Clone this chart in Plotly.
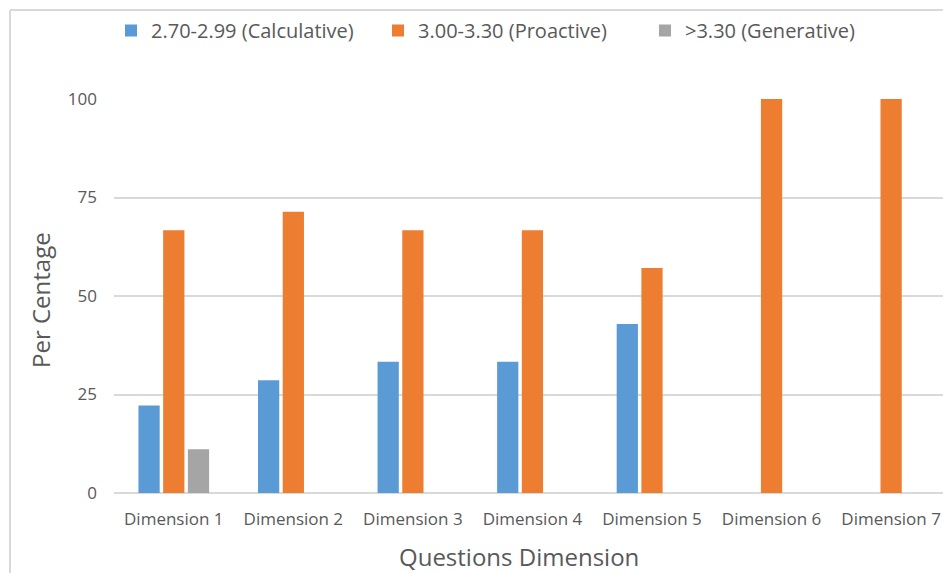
import plotly.graph_objects as go

categories = ["Dimension 1", "Dimension 2", "Dimension 3", "Dimension 4",
              "Dimension 5", "Dimension 6", "Dimension 7"]
calculative = [22.2, 28.6, 33.3, 33.3, 42.9, None, None]
proactive = [66.7, 71.4, 66.7, 66.7, 57.1, 100, 100]
generative = [11.1, None, None, None, None, None, None]

series_names = ["2.70-2.99 (Calculative)", "3.00-3.30 (Proactive)", ">3.30 (Generative)"]
colors = ["#5B9BD5", "#ED7D31", "#A5A5A5"]

W, H = 943, 573
font_family = "Open Sans, Noto Sans, sans-serif"
text_color = "#595959"
grid_color = "#D9D9D9"

fig = go.Figure()
for name, vals, col in zip(series_names, [calculative, proactive, generative], colors):
    fig.add_trace(go.Bar(
        x=list(range(len(categories))), y=vals, name=name,
        marker=dict(color=col, line=dict(width=0)),
    ))

fig.update_layout(
    width=W, height=H,
    margin=dict(l=0, r=0, t=0, b=0, autoexpand=False),
    paper_bgcolor="white", plot_bgcolor="white",
    barmode="group", bargap=0.38, bargroupgap=0.14,
    font=dict(family=font_family, color=text_color),
    showlegend=True,
    legend=dict(
        orientation="h", x=111 / W, xanchor="left", y=1 - 11 / H, yanchor="top",
        entrywidth=222, entrywidthmode="pixels",
        font=dict(size=20, color=text_color),
        itemclick=False, tracegroupgap=0,
    ),
    xaxis=dict(
        domain=[114 / W, 1],
        range=[-0.5, 6.434],
        tickmode="array", tickvals=list(range(len(categories))), ticktext=categories,
        showgrid=False, zeroline=False, showline=False,
        ticks="", ticklabelstandoff=14,
        tickfont=dict(size=17, color=text_color),
    ),
    yaxis=dict(
        domain=[80 / H, 474 / H],
        range=[0, 100],
        tickvals=[0, 25, 50, 75, 100],
        showgrid=True, gridcolor=grid_color, gridwidth=1.5,
        zeroline=True, zerolinecolor=grid_color, zerolinewidth=1.5,
        showline=False, ticks="", ticklabelstandoff=16,
        tickfont=dict(size=17, color=text_color),
    ),
    annotations=[
        dict(text="Per Centage", xref="paper", yref="paper",
             x=40 / W, y=1 - 300 / H, xanchor="center", yanchor="middle",
             textangle=-90, showarrow=False,
             font=dict(size=24, color=text_color)),
        dict(text="Questions Dimension", xref="paper", yref="paper",
             x=519 / W, y=1 - 556 / H, xanchor="center", yanchor="middle",
             showarrow=False, font=dict(size=24, color=text_color)),
    ],
    shapes=[
        dict(type="line", xref="paper", yref="paper",
             x0=10 / W, x1=1, y0=1 - 10 / H, y1=1 - 10 / H,
             line=dict(color=grid_color, width=2)),
        dict(type="line", xref="paper", yref="paper",
             x0=10 / W, x1=10 / W, y0=0, y1=1 - 10 / H,
             line=dict(color=grid_color, width=2)),
    ],
)

fig.write_html("out.html")
